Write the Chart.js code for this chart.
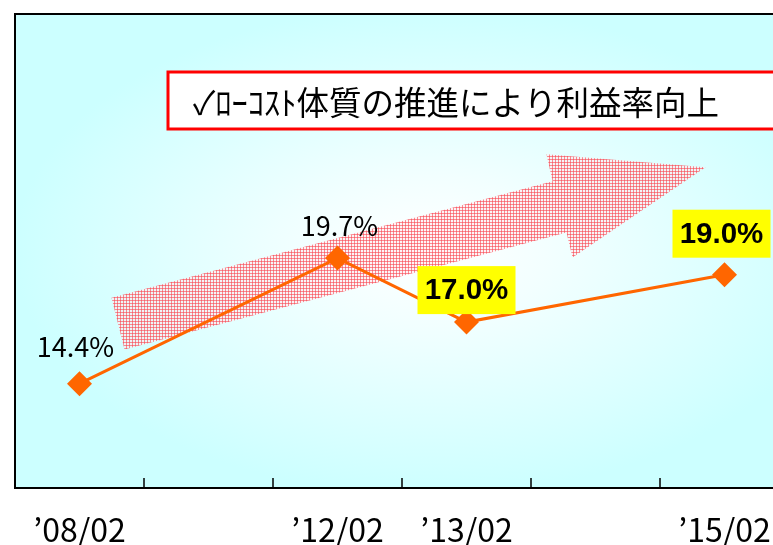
<!DOCTYPE html>
<html lang="ja">
<head>
<meta charset="utf-8">
<title>利益率推移</title>
<script src="https://cdn.jsdelivr.net/npm/chart.js@4.4.1/dist/chart.umd.min.js"></script>
<style>
  html, body { margin: 0; padding: 0; background: #fff; overflow: hidden; }
  #wrap { width: 810px; height: 545px; }
</style>
</head>
<body>
<div id="wrap"><canvas id="chart" width="810" height="545"></canvas></div>
<script>
// データ
const periods = ['’08/02', '', '’12/02', '’13/02', '', '’15/02'];
const margins = [14.4, null, 19.7, 17.0, null, 19.0];
const yMin = 10;
const yMax = 30;
const headline = '✓ﾛｰｺｽﾄ体質の推進により利益率向上';

// 矢印（x: カテゴリ位置, y: 値）
const arrowShape = [
  [0.248, 18.03], [3.667, 22.94], [3.620, 24.08], [4.853, 23.53],
  [3.822, 19.73], [3.775, 20.78], [0.349, 15.84],
];

// ラベルの見た目（ずらし量と強調）
const labelStyle = [
  { dx: -4, dy: -38, box: false },
  null,
  { dx: 2, dy: -33, box: false },
  { dx: 0, dy: -32, box: true },
  null,
  { dx: -3, dy: -41, box: true },
];

const ORANGE = '#ff6600';

function dotPattern(ctx) {
  const c = document.createElement('canvas');
  c.width = 3; c.height = 3;
  const p = c.getContext('2d');
  p.fillStyle = 'rgba(255,235,238,0.55)';
  p.fillRect(0, 0, 3, 3);
  p.fillStyle = 'rgba(248,70,80,0.6)';
  p.fillRect(0, 0, 3, 1);
  p.fillRect(0, 0, 1, 3);
  return ctx.createPattern(c, 'repeat');
}

const decor = {
  id: 'decor',
  beforeDraw(chart) {
    const { ctx, chartArea: a } = chart;
    ctx.save();
    // 背景グラデーション
    const cx = 430, cy = 250;
    ctx.save();
    ctx.beginPath();
    ctx.rect(a.left, a.top, a.right - a.left, a.bottom - a.top);
    ctx.clip();
    ctx.translate(cx, cy);
    ctx.scale(1.7, 1);
    const g = ctx.createRadialGradient(0, 0, 0, 0, 0, 245);
    g.addColorStop(0, '#ffffff');
    g.addColorStop(0.3, '#f2ffff');
    g.addColorStop(1, '#ccffff');
    ctx.fillStyle = g;
    ctx.fillRect(-1000, -1000, 2000, 2000);
    ctx.restore();

    // 枠（左・上）
    ctx.strokeStyle = '#000';
    ctx.lineWidth = 2;
    ctx.beginPath();
    ctx.moveTo(a.left, a.bottom);
    ctx.lineTo(a.left, a.top);
    ctx.lineTo(a.right, a.top);
    ctx.stroke();

    // 見出しボックス
    ctx.fillStyle = '#fff';
    ctx.fillRect(168, 72, 700, 57);
    ctx.strokeStyle = '#ff0000';
    ctx.lineWidth = 3;
    ctx.strokeRect(168, 72, 700, 57);
    ctx.fillStyle = '#000';
    ctx.font = '32.5px "Noto Sans CJK JP"';
    ctx.textAlign = 'left';
    ctx.textBaseline = 'middle';
    ctx.fillText(headline, 193, 103);
    ctx.restore();
  },
  beforeDatasetsDraw(chart) {
    const { ctx, scales: { x, y }, chartArea: a } = chart;
    ctx.save();
    // 矢印
    ctx.beginPath();
    arrowShape.forEach(([i, v], k) => {
      const px = x.getPixelForValue(i), py = y.getPixelForValue(v);
      if (k === 0) ctx.moveTo(px, py); else ctx.lineTo(px, py);
    });
    ctx.closePath();
    ctx.fillStyle = dotPattern(ctx);
    ctx.fill();

    // 内向き目盛り
    ctx.strokeStyle = '#000';
    ctx.lineWidth = 1.5;
    ctx.beginPath();
    for (let i = 0; i < periods.length; i++) {
      const bx = i < periods.length - 1
        ? (x.getPixelForValue(i) + x.getPixelForValue(i + 1)) / 2
        : a.right;
      ctx.moveTo(bx, a.bottom);
      ctx.lineTo(bx, a.bottom - 10);
    }
    ctx.stroke();
    ctx.restore();
  },
  afterDatasetsDraw(chart) {
    const { ctx } = chart;
    const meta = chart.getDatasetMeta(0);
    ctx.save();
    ctx.textAlign = 'center';
    ctx.textBaseline = 'middle';
    margins.forEach((v, i) => {
      const s = labelStyle[i];
      if (v == null || !s) return;
      const pt = meta.data[i];
      const lx = pt.x + s.dx, ly = pt.y + s.dy;
      const txt = v.toFixed(1) + '%';
      if (s.box) {
        ctx.fillStyle = '#ffff00';
        ctx.fillRect(lx - 49, ly - 24, 98, 48);
        ctx.fillStyle = '#000';
        ctx.font = 'bold 29.5px "Liberation Sans"';
      } else {
        ctx.fillStyle = '#000';
        ctx.font = '27px "Noto Sans CJK JP"';
      }
      ctx.fillText(txt, lx, ly + 1);
    });
    ctx.restore();
  },
};

new Chart(document.getElementById('chart'), {
  type: 'line',
  data: {
    labels: periods,
    datasets: [{
      data: margins,
      borderColor: ORANGE,
      backgroundColor: ORANGE,
      borderWidth: 3,
      pointStyle: 'rectRot',
      pointRadius: 12.5,
      pointHoverRadius: 12.5,
      pointBorderWidth: 0,
      spanGaps: true,
      tension: 0,
    }],
  },
  options: {
    responsive: false,
    animation: false,
    devicePixelRatio: 1,
    layout: { padding: { left: 15, top: 14, right: 21, bottom: 0 } },
    plugins: { legend: { display: false }, tooltip: { enabled: false } },
    scales: {
      x: {
        offset: true,
        grid: { display: false, drawTicks: false },
        border: { display: true, color: '#000', width: 2 },
        ticks: {
          color: '#000',
          font: { family: '"Noto Sans CJK JP"', size: 32 },
          padding: 23,
          maxRotation: 0,
          autoSkip: false,
        },
        afterFit(s) { s.height = 57; },
      },
      y: { display: false, min: yMin, max: yMax },
    },
  },
  plugins: [decor],
});
</script>
</body>
</html>
